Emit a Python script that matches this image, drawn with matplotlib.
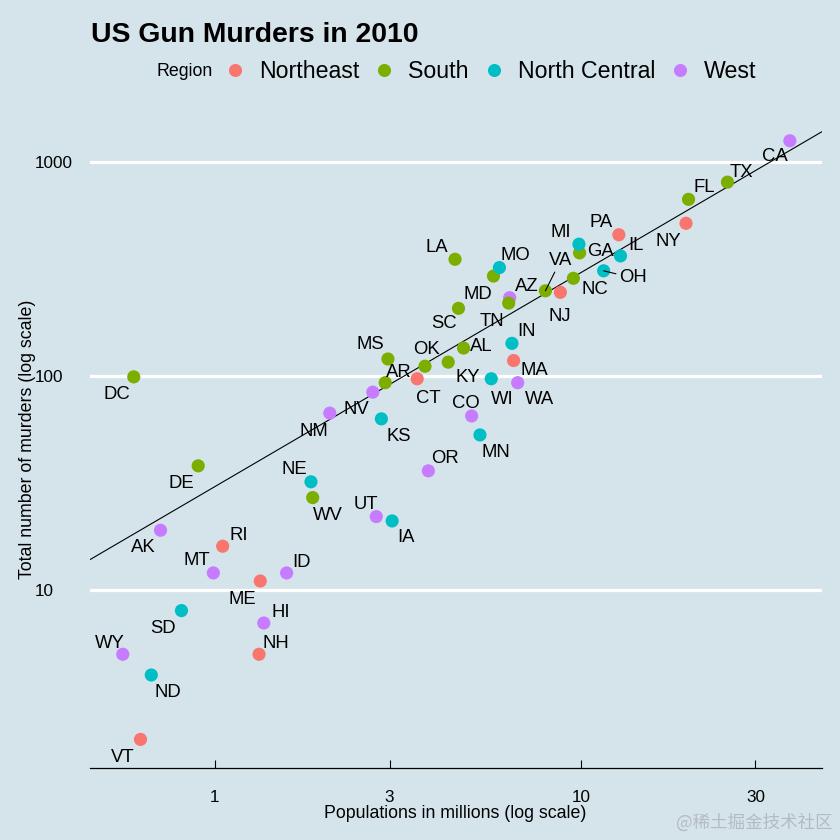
import numpy as np
import matplotlib
matplotlib.use("Agg")
import matplotlib.pyplot as plt
from matplotlib.lines import Line2D

plt.rcParams['font.family'] = ['Liberation Sans', 'DejaVu Sans']

BG = '#d5e4eb'
REGION_COLORS = {'Northeast': '#F8766D', 'South': '#7CAE00',
                 'North Central': '#00BFC4', 'West': '#C77CFF'}

# ---- data ----
abb = ['AL','AK','AZ','AR','CA','CO','CT','DE','DC','FL','GA','HI','ID','IL','IN','IA','KS',
       'KY','LA','ME','MD','MA','MI','MN','MS','MO','MT','NE','NV','NH','NJ','NM','NY','NC',
       'ND','OH','OK','OR','PA','RI','SC','SD','TN','TX','UT','VT','VA','WA','WV','WI','WY']
region_code = ['S','W','W','S','W','W','N','S','S','S','S','W','W','C','C','C','C',
               'S','S','N','S','N','C','C','S','C','W','C','W','N','N','W','N','S',
               'C','C','S','W','N','N','S','C','S','S','W','N','S','W','S','C','W']
population_m = [4.78,0.71,6.39,2.92,37.25,5.03,3.57,0.90,0.60,19.69,9.92,1.36,1.57,12.83,6.48,3.05,2.85,
                4.34,4.53,1.33,5.77,6.55,9.88,5.30,2.97,5.99,0.99,1.83,2.70,1.32,8.79,2.06,19.38,9.54,
                0.67,11.54,3.75,3.83,12.70,1.05,4.63,0.81,6.35,25.15,2.76,0.626,8.00,6.72,1.85,5.69,0.56]
total = [135,19,232,93,1257,65,97,38,99,669,376,7,12,364,142,21,63,
         116,351,11,293,118,413,53,120,321,12,32,84,5,246,67,517,286,
         4,310,111,36,457,16,207,8,219,805,22,2,250,93,27,97,5]
region_names = {'N': 'Northeast', 'S': 'South', 'C': 'North Central', 'W': 'West'}
overall_rate = 30.4  # murders per million
x_ticks = [1, 3, 10, 30]
y_ticks = [10, 100, 1000]

# label placement (pixels from the point to the label centre)
label_offset = {
 'AL':(18,3),'AK':(-17,-16),'AZ':(17,12),'AR':(14,11),'CA':(-15,-15),'CO':(-6,13),'CT':(11,-19),
 'DE':(-17,-17),'DC':(-17,-17),'FL':(16,13),'GA':(21,2),'HI':(17,12),'ID':(15,11),'IL':(15,11),
 'IN':(15,13),'IA':(14,-16),'KS':(17,-17),'KY':(20,-14),'LA':(-18,13),'ME':(-18,-17),'MD':(-16,-17),
 'MA':(21,-9),'MI':(-18,13),'MN':(16,-17),'MS':(-18,15),'MO':(16,13),'MT':(-17,13),'NE':(-17,13),
 'NV':(-16,-16),'NH':(17,12),'NJ':(-1,-23),'NM':(-16,-17),'NY':(-18,-17),'NC':(21,-10),'ND':(17,-17),
 'OH':(29,-6),'OK':(1,18),'OR':(17,13),'PA':(-18,13),'RI':(16,12),'SC':(-14,-14),'SD':(-18,-17),
 'TN':(-17,-17),'TX':(14,11),'UT':(-10,13),'VT':(-18,-17),'VA':(15,31),'WA':(22,-16),'WV':(15,-17),
 'WI':(11,-20),'WY':(-13,12)}
with_segment = {'VA', 'OH'}

# ---- figure ----
W = H = 840
fig = plt.figure(figsize=(W/100, H/100), dpi=100, facecolor=BG)
L, R, T, B = 90, 822, 128, 768
ax = fig.add_axes([L/W, 1-B/H, (R-L)/W, (B-T)/H], facecolor=BG)
ax.set_xscale('log')
ax.set_yscale('log')
ax.set_xlim(0.4556, 45.6)
ax.set_ylim(1.47, 1442)

ax.yaxis.grid(True, which='major', color='white', lw=2.3, zorder=0)
ax.xaxis.grid(False)
ax.set_axisbelow(True)
for s in ['top', 'left', 'right']:
    ax.spines[s].set_visible(False)
ax.spines['bottom'].set_linewidth(0.9)

ax.set_xticks(x_ticks, [str(v) for v in x_ticks])
ax.set_yticks(y_ticks, [str(v) for v in y_ticks])
ax.minorticks_off()
ax.tick_params(axis='x', direction='in', length=5.8, width=0.8, labelsize=12.3, pad=16)
ax.tick_params(axis='y', length=0, labelsize=12.3, pad=39.6)
for lab in ax.get_yticklabels():
    lab.set_ha('left')

xl = np.array(ax.get_xlim())
ax.plot(xl, xl*overall_rate, color='black', lw=0.8, zorder=2, clip_on=True)

colors = [REGION_COLORS[region_names[c]] for c in region_code]
ax.scatter(population_m, total, s=90, c=colors, linewidths=0, zorder=3)

for a, p, t in zip(abb, population_m, total):
    dx, dy = label_offset[a]
    arrow = dict(arrowstyle='-', color='black', lw=0.8, shrinkA=0, shrinkB=0,
                 relpos=(0.5, 0.5)) if a in with_segment else None
    ax.annotate(a, xy=(p, t), xytext=(dx, dy - 1), textcoords='offset pixels',
                ha='center', va='center', fontsize=13.3, color='black',
                zorder=4, arrowprops=arrow)

fig.text(455/W, 1-814/H, 'Populations in millions (log scale)', ha='center', va='center', fontsize=12.8)
fig.text(28/W, 1-439/H, 'Total number of murders (log scale)', ha='center', va='center',
         rotation=90, fontsize=12.8)
fig.text(91/W, 1-35/H, 'US Gun Murders in 2010', ha='left', va='center',
         fontsize=20.4, fontweight='bold')

fig.text(157/W, 1-72/H, 'Region', ha='left', va='center', fontsize=12.8)
handles = [Line2D([], [], ls='', marker='o', ms=9.4, mew=0, color=c) for c in REGION_COLORS.values()]
fig.legend(handles, list(REGION_COLORS), loc='center left', bbox_to_anchor=(223.4/W, 1-71.5/H),
           ncol=4, frameon=False, fontsize=16.7, borderpad=0, borderaxespad=0,
           handlelength=1.0, handletextpad=0.53, columnspacing=0.58)

fig.text(833/W, 1-823/H, '@稀土掘金技术社区', ha='right', va='center', fontsize=12.6,
         color='#b4bbbf', family=['Noto Sans CJK SC', 'DejaVu Sans'])

fig.savefig('out.png', dpi=100, facecolor=BG)
